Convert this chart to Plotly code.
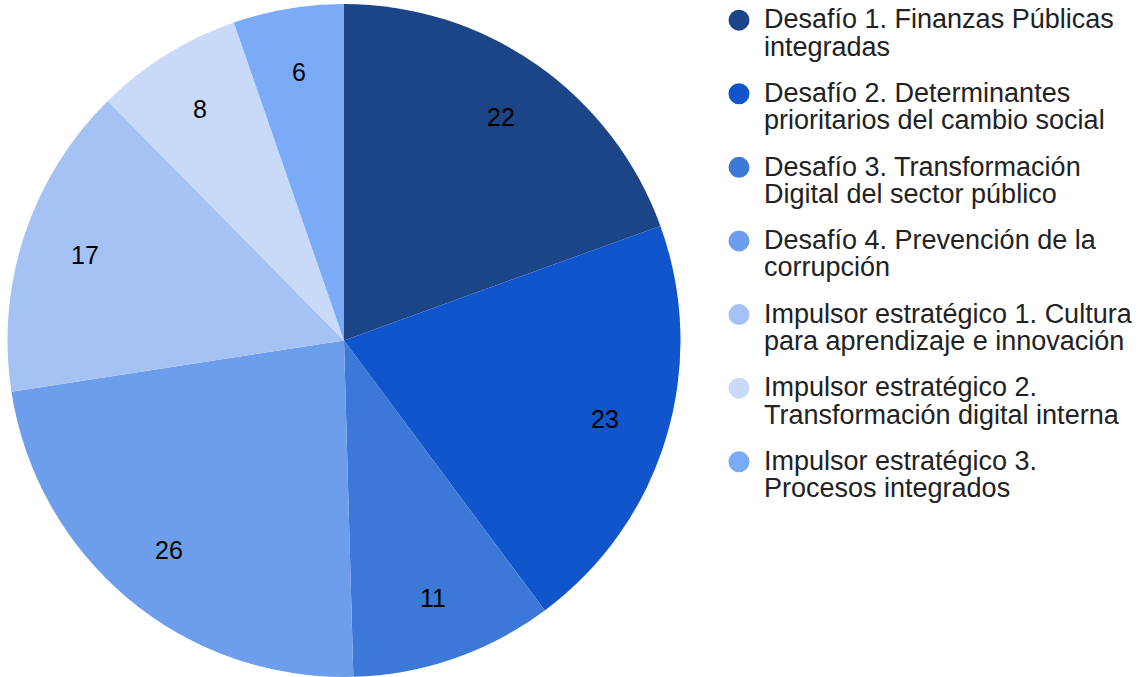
import math
import plotly.graph_objects as go

labels = [
    "Desafío 1. Finanzas Públicas<br>integradas",
    "Desafío 2. Determinantes<br>prioritarios del cambio social",
    "Desafío 3. Transformación<br>Digital del sector público",
    "Desafío 4. Prevención de la<br>corrupción",
    "Impulsor estratégico 1. Cultura<br>para aprendizaje e innovación",
    "Impulsor estratégico 2.<br>Transformación digital interna",
    "Impulsor estratégico 3.<br>Procesos integrados",
]
values = [22, 23, 11, 26, 17, 8, 6]
colors = ["#1c4587", "#1155cc", "#3c78d8", "#6d9eeb", "#a4c2f4", "#c9daf8", "#7baaf7"]

W, H = 1144, 677
FONT = "Arial, Liberation Sans, sans-serif"

# pie geometry (pixels)
dom_x = [0.0, 688 / W]
dom_y = [0.0, 1 - 4 / H]
cx = (dom_x[0] + dom_x[1]) / 2 * W
cy_frac = (dom_y[0] + dom_y[1]) / 2
cy = (1 - cy_frac) * H
r = min((dom_x[1] - dom_x[0]) * W, (dom_y[1] - dom_y[0]) * H) / 2

fig = go.Figure()
fig.add_trace(go.Pie(
    labels=labels, values=values, sort=False, direction="clockwise", rotation=0,
    marker=dict(colors=colors, line=dict(width=0)),
    textinfo="none", showlegend=False, hoverinfo="label+value",
    domain=dict(x=dom_x, y=dom_y),
))

# legend entries (circle markers), one group per entry for spacing
for i, (lab, col) in enumerate(zip(labels, colors)):
    fig.add_trace(go.Scatter(
        x=[None], y=[None], mode="markers",
        name=f"<span style='font-size:27px'>{lab}</span>",
        marker=dict(symbol="circle", size=16, color=col, line=dict(color=col, width=5)),
        legendgroup=f"g{i}", showlegend=True,
    ))

# value labels placed at a fixed fraction of the radius along each slice's mid-angle
total = sum(values)
cum = 0
annotations = []
for v in values:
    mid = (cum + v / 2) / total * 2 * math.pi
    cum += v
    px = cx + 0.81 * r * math.sin(mid)
    py = cy - 0.81 * r * math.cos(mid)
    annotations.append(dict(
        x=px / W, y=1 - py / H, xref="paper", yref="paper", text=str(v),
        showarrow=False, font=dict(family=FONT, size=25, color="#000000"),
        xanchor="center", yanchor="middle",
    ))

fig.update_layout(
    width=W, height=H,
    margin=dict(l=0, r=0, t=0, b=0),
    paper_bgcolor="white", plot_bgcolor="white",
    xaxis=dict(visible=False), yaxis=dict(visible=False),
    annotations=annotations,
    legend=dict(
        x=714 / W, y=1 - 0 / H, xanchor="left", yanchor="top",
        font=dict(family=FONT, size=21, color="#222222"),
        tracegroupgap=16, itemsizing="trace", itemwidth=40, valign="top",
        bgcolor="rgba(0,0,0,0)",
    ),
    showlegend=True,
)

fig.write_html("out.html", config={"displayModeBar": False},
               post_script="document.body.style.margin='0';")
